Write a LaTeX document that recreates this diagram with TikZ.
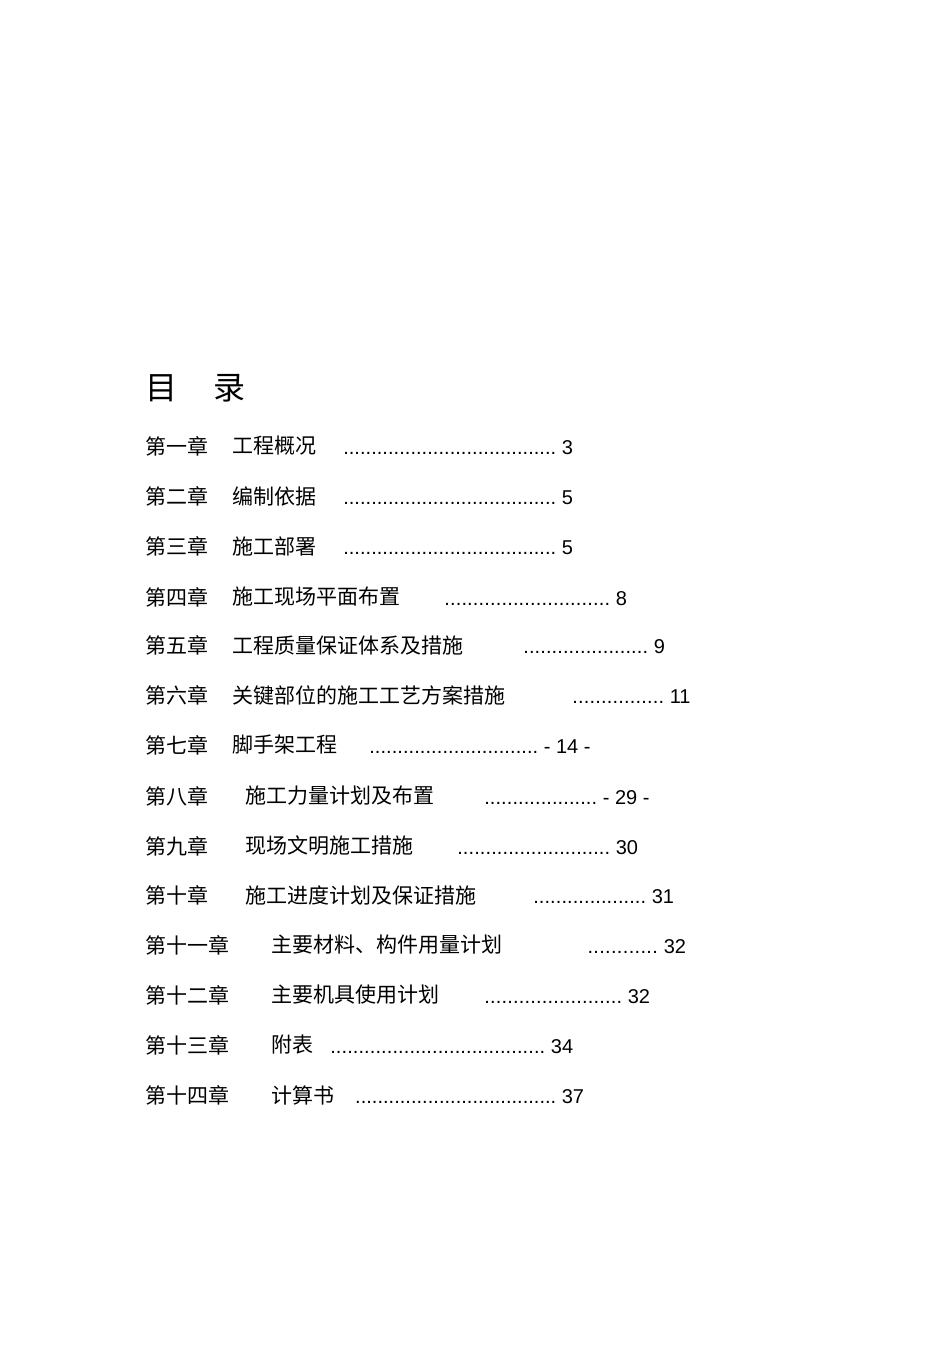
\documentclass[tikz,border=0pt]{standalone}
\usepackage{fontspec}
\setmainfont{Liberation Sans}
\newfontfamily\cjk{Noto Sans CJK SC}
\begin{document}
\begin{tikzpicture}[x=1pt,y=-1pt,
  ent/.style={anchor=west,inner sep=0pt,font=\cjk\fontsize{21}{21}\selectfont},
  dts/.style={anchor=west,inner sep=0pt,font=\fontsize{20}{20}\selectfont}]
\useasboundingbox (0,0) rectangle (950,1345);
\node[anchor=west,inner sep=0pt,font=\cjk\fontsize{32}{32}\selectfont] (title) at (145,388) {目\hspace{36pt}录};
\foreach \i/\y/\ch/\tx/\txx/\dx/\dw/\num in {
 1/446/第一章/工程概况/232/343/213/3,
 2/496/第二章/编制依据/232/343/213/5,
 3/546/第三章/施工部署/232/343/213/5,
 4/597/第四章/施工现场平面布置/232/444/166/8,
 5/645/第五章/工程质量保证体系及措施/232/523/125/9,
 6/695/第六章/关键部位的施工工艺方案措施/232/572/92/11,
 7/745/第七章/脚手架工程/232/369/169/- 14 -,
 8/796/第八章/施工力量计划及布置/245/484/113/- 29 -,
 9/846/第九章/现场文明施工措施/245/457/153/30,
 10/895/第十章/施工进度计划及保证措施/245/533/113/31,
 11/945/第十一章/主要材料、构件用量计划/271/587/71/32,
 12/995/第十二章/主要机具使用计划/271/484/138/32,
 13/1045/第十三章/附表/271/330/215/34,
 14/1095/第十四章/计算书/271/355/201/37}{
  \node[ent] (c\i) at (145,\y) {\ch};
  \node[ent] (t\i) at (\txx,\y) {\tx};
  \node[dts] (d\i) at (\dx,\y+2) {\hbox to \dw pt{\xleaders\hbox{.}\hfill}\ \num};
}
\end{tikzpicture}
\end{document}
